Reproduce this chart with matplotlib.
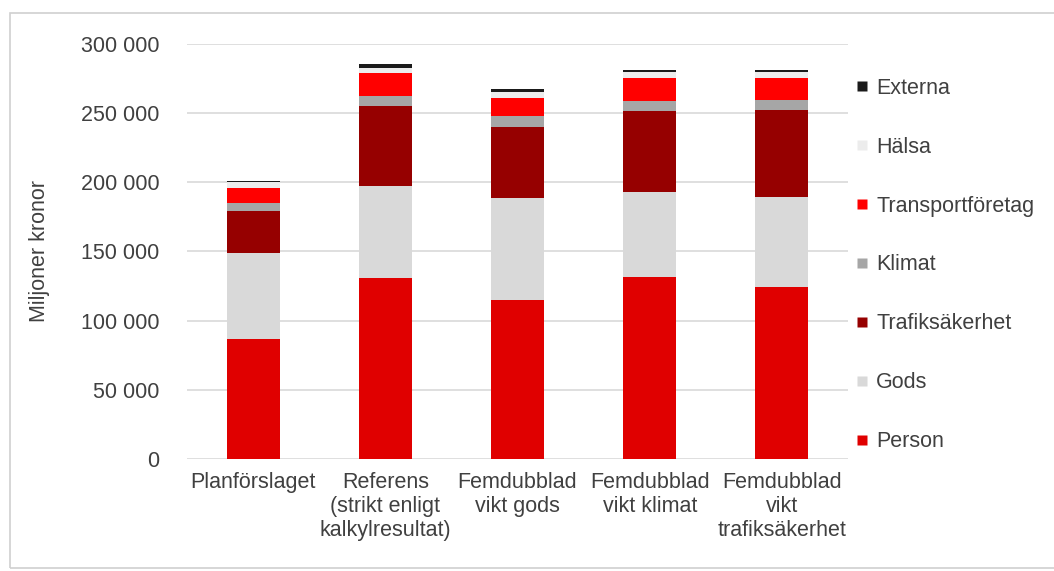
import matplotlib
matplotlib.use("Agg")
import matplotlib.pyplot as plt
from matplotlib.patches import Rectangle
from matplotlib.lines import Line2D
import numpy as np

plt.rcParams['font.family'] = ['Liberation Sans', 'DejaVu Sans']

categories = ["Planförslaget", "Referens\n(strikt enligt\nkalkylresultat)",
              "Femdubblad\nvikt gods", "Femdubblad\nvikt klimat",
              "Femdubblad\nvikt\ntrafiksäkerhet"]

# stacked components, bottom to top (miljoner kronor)
person = [87000, 130500, 115000, 131500, 124000]
gods = [62000, 66500, 74000, 61500, 65500]
trafiksakerhet = [30500, 58000, 51000, 58500, 62700]
klimat = [5800, 7200, 8200, 7200, 7200]
transportforetag = [10800, 16800, 12700, 16800, 16100]
halsa = [4300, 3600, 4100, 4300, 4300]
externa = [900, 2900, 2700, 1700, 1700]

series_names = ["Person", "Gods", "Trafiksäkerhet", "Klimat",
                "Transportföretag", "Hälsa", "Externa"]
series_vals = [person, gods, trafiksakerhet, klimat, transportforetag, halsa, externa]
colors = ["#e00000", "#d9d9d9", "#960000", "#a6a6a6", "#ff0000", "#ececec", "#1a1a1a"]

yticks = [0, 50000, 100000, 150000, 200000, 250000, 300000]

fig = plt.figure(figsize=(10.54, 5.71), dpi=100)
ax = fig.add_axes([0.1774, 0.1961, 0.6272, 0.7269])

x = np.arange(len(categories))
bottom = np.zeros(len(categories))
for name, vals, col in zip(series_names, series_vals, colors):
    ax.bar(x, vals, width=0.4, bottom=bottom, color=col, label=name, zorder=3)
    bottom += np.array(vals)

ax.set_xlim(-0.5, len(categories) - 0.5)
ax.set_ylim(0, 300000)
ax.set_yticks(yticks)
ax.set_yticklabels([f"{v:,}".replace(",", " ") for v in yticks])
ax.set_xticks(x)
ax.set_xticklabels(categories, linespacing=1.2)
ax.tick_params(axis='both', length=0, labelsize=15.5, colors="#404040")
ax.tick_params(axis='y', pad=20)
ax.tick_params(axis='x', pad=9)
ax.grid(axis='y', color="#d9d9d9", linewidth=1.2, zorder=0)
for s in ax.spines.values():
    s.set_visible(False)
ax.set_ylabel("Miljoner kronor", fontsize=15.5, color="#404040", labelpad=22)

handles = [Line2D([0], [0], marker='s', color='none', markerfacecolor=c,
                  markeredgecolor='none', markersize=7) for c in colors]
leg = ax.legend(handles[::-1], series_names[::-1], loc='upper left',
                bbox_to_anchor=(1.0, 0.934), frameon=False, fontsize=15.5,
                labelspacing=1.76, handlelength=0.7, handletextpad=0.3,
                borderaxespad=0.0, borderpad=0.3)
for t in leg.get_texts():
    t.set_color("#404040")

# outer frame of the chart
fig.patches.append(Rectangle((10 / 1054, 3 / 571), 1.1, 1 - 16 / 571,
                             transform=fig.transFigure, fill=False,
                             edgecolor="#d0d0d0", linewidth=1.2))

fig.savefig("out.png", dpi=100)
